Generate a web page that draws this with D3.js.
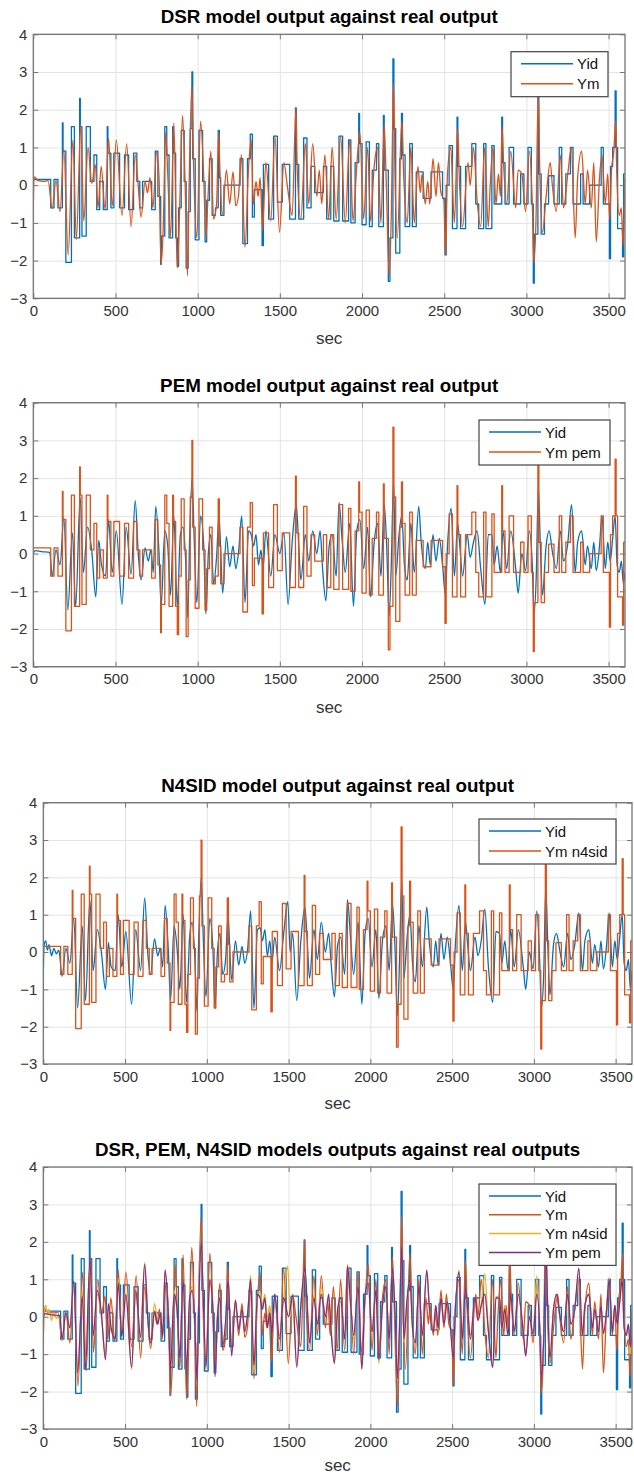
<!DOCTYPE html>
<html>
<head>
<meta charset="utf-8">
<script src="https://cdn.jsdelivr.net/npm/d3@7"></script>
<style>
  body { margin: 0; background: #fff; }
  svg text { font-family: "Liberation Sans", Arial, sans-serif; }
</style>
</head>
<body>
<div id="chart"></div>
<script>
// measured output (step-like) - [sec, value]
const yid = [[0,0.15],[106,-0.6],[126,0.15],[150,-0.6],[177,1.65],[181,0.9],[198,-2.05],[232,1.55],[250,-1.4],[282,2.3],[286,1.55],[296,-1.35],[322,1.55],[347,0.1],[369,0.8],[386,-0.65],[404,0.1],[426,-0.65],[450,1.55],[454,0.85],[472,-0.6],[490,0.85],[525,-0.6],[555,0.8],[580,-0.65],[610,0.85],[630,0.1],[648,-0.6],[665,0.1],[720,-0.65],[742,0.9],[758,-0.3],[775,-2.1],[779,-1.35],[800,1.55],[812,0.8],[826,-1.4],[848,1.55],[853,0.85],[866,-1.4],[876,-2.15],[884,-0.6],[900,1.45],[918,0.1],[930,-2.2],[942,-0.7],[955,1.5],[965,3.0],[970,0.7],[985,-1.45],[1008,1.45],[1030,0.1],[1045,-1.5],[1055,-0.4],[1072,0.7],[1088,-0.8],[1108,-0.6],[1125,1.45],[1132,0.2],[1140,-0.8],[1160,0.0],[1258,0.7],[1275,-1.55],[1303,0.7],[1320,1.35],[1333,-0.85],[1345,-0.12],[1392,-1.6],[1400,0.55],[1432,-0.9],[1462,1.3],[1485,-0.45],[1515,0.55],[1560,-0.9],[1595,2.05],[1600,0.55],[1615,-0.9],[1645,1.25],[1665,-0.6],[1690,0.5],[1712,-0.2],[1765,0.5],[1785,-0.9],[1810,0.5],[1828,-0.95],[1860,1.3],[1882,-0.95],[1918,1.2],[1932,-1.0],[1958,0.6],[1980,1.9],[1985,1.1],[2000,-1.05],[2025,1.15],[2045,-1.1],[2062,0.4],[2088,1.1],[2102,-1.1],[2130,1.85],[2135,0.4],[2160,-2.55],[2170,-1.4],[2188,3.35],[2194,1.5],[2205,-1.8],[2230,0.7],[2240,1.9],[2246,0.8],[2262,-1.1],[2290,1.1],[2306,-1.1],[2330,0.35],[2372,-0.35],[2420,0.35],[2490,-0.35],[2505,-1.85],[2512,0.0],[2530,1.05],[2550,-1.15],[2578,1.8],[2583,0.5],[2600,-1.15],[2630,0.5],[2668,1.1],[2692,-0.5],[2710,-1.15],[2740,1.1],[2754,-1.15],[2790,1.05],[2804,-0.5],[2850,1.8],[2855,0.6],[2870,-0.5],[2895,1.0],[2922,-0.5],[2965,0.3],[2985,-0.5],[3010,1.0],[3030,-0.5],[3042,-2.6],[3048,-1.3],[3070,2.4],[3076,0.3],[3090,-1.3],[3110,-0.5],[3135,0.25],[3168,-0.5],[3200,1.0],[3215,-0.5],[3240,0.3],[3268,1.0],[3284,-0.5],[3330,0.3],[3345,-0.5],[3385,0.0],[3455,1.0],[3468,-0.5],[3505,-1.95],[3512,0.5],[3525,1.0],[3540,2.5],[3546,1.0],[3555,-1.15],[3585,-1.9],[3592,0.3],[3600,0.3]];

// DSR model output
const dsr = [[0,-0.6],[5,0.22],[30,0.12],[60,0.1],[90,0.12],[115,-0.62],[138,0.12],[163,-0.7],[186,0.95],[212,-1.85],[241,1.2],[262,-1.45],[289,1.6],[307,-0.95],[333,1.0],[356,0.05],[377,0.55],[394,-0.6],[413,0.5],[437,-0.65],[458,1.25],[480,-0.55],[505,1.2],[540,-0.8],[568,1.1],[595,-1.1],[620,0.8],[638,0.0],[656,-0.85],[680,0.1],[695,-0.2],[710,0.2],[728,-0.6],[750,0.9],[765,0.2],[777,-2.1],[790,-1.2],[805,1.4],[818,0.3],[835,-1.4],[855,1.65],[876,-2.2],[890,-0.7],[908,1.85],[924,0.0],[938,-2.4],[948,0.0],[965,2.65],[976,0.4],[995,-1.4],[1018,1.7],[1037,0.2],[1050,-1.4],[1063,-0.3],[1080,0.9],[1097,-0.9],[1115,-0.5],[1128,1.4],[1136,0.3],[1150,-0.8],[1175,0.4],[1195,-0.5],[1215,0.35],[1232,-0.55],[1248,-0.3],[1266,0.8],[1288,-1.65],[1310,0.5],[1326,1.2],[1339,-0.5],[1355,0.1],[1368,-0.3],[1380,0.2],[1395,-1.2],[1415,0.6],[1445,-0.95],[1470,1.3],[1498,-1.25],[1525,0.6],[1545,0.0],[1575,-0.8],[1598,2.05],[1606,0.4],[1628,-0.9],[1655,1.1],[1676,-0.5],[1700,1.1],[1725,-0.3],[1740,0.4],[1755,-0.5],[1774,0.8],[1797,-0.9],[1818,1.0],[1843,-0.9],[1870,1.3],[1898,-1.0],[1925,1.2],[1945,-0.95],[1968,0.5],[1987,1.4],[2010,-0.9],[2034,1.0],[2052,-0.95],[2074,0.5],[2095,1.0],[2115,-1.0],[2135,1.6],[2148,0.0],[2165,-2.4],[2178,-0.8],[2192,2.7],[2200,0.4],[2215,-1.4],[2242,1.7],[2254,0.2],[2275,-1.0],[2297,1.0],[2318,-1.0],[2340,0.5],[2355,-0.2],[2365,0.3],[2385,-0.5],[2400,0.1],[2412,-0.5],[2432,0.7],[2450,-0.3],[2465,0.6],[2480,-0.2],[2498,-0.4],[2507,-1.85],[2520,0.3],[2540,1.0],[2562,-1.0],[2582,1.5],[2592,0.2],[2612,-1.1],[2645,0.6],[2658,0.0],[2678,1.0],[2700,-0.4],[2722,-1.1],[2746,1.0],[2768,-1.1],[2780,0.0],[2797,1.0],[2815,-0.5],[2830,0.3],[2842,-0.3],[2852,1.55],[2862,0.5],[2880,-0.5],[2905,0.9],[2935,-0.6],[2950,0.4],[2972,0.3],[2995,-0.7],[3018,0.9],[3036,-0.5],[3045,-2.05],[3058,-1.0],[3072,2.4],[3082,0.3],[3098,-1.25],[3120,-0.3],[3145,0.6],[3158,0.0],[3182,-0.7],[3206,0.8],[3226,-0.6],[3252,0.3],[3274,1.0],[3297,-1.4],[3312,0.2],[3336,0.9],[3358,-0.5],[3372,0.4],[3395,-0.6],[3410,0.6],[3425,-1.5],[3445,0.2],[3460,0.8],[3480,-0.5],[3495,0.3],[3507,-0.9],[3518,0.4],[3532,0.9],[3543,1.7],[3550,0.3],[3565,-0.8],[3578,-0.6],[3588,-1.6],[3600,0.2]];

// PEM model output
const pem = [[0,0.0],[10,0.08],[50,0.05],[100,0.03],[115,-0.6],[138,0.1],[163,-0.3],[186,0.95],[210,-1.5],[238,0.55],[258,-1.4],[285,1.5],[305,-0.5],[330,0.7],[355,0.1],[380,-1.15],[398,0.35],[415,-0.3],[440,-0.6],[458,0.9],[480,-0.5],[505,0.6],[540,-1.35],[565,0.7],[595,-0.55],[620,1.4],[640,-0.1],[656,-0.7],[680,0.15],[700,-0.2],[715,0.1],[730,-0.5],[745,1.25],[765,0.0],[778,-1.4],[800,0.6],[818,0.2],[835,-1.1],[855,1.0],[876,-1.4],[895,0.5],[910,0.7],[925,0.0],[940,-1.7],[950,0.2],[966,2.0],[978,0.5],[995,-1.3],[1018,1.0],[1037,0.2],[1050,-1.6],[1065,0.0],[1080,0.5],[1097,-0.8],[1115,-0.1],[1130,1.0],[1140,0.1],[1152,-1.05],[1175,0.45],[1195,-0.35],[1215,0.2],[1232,-0.4],[1250,0.1],[1268,1.0],[1288,-1.3],[1310,0.6],[1326,0.5],[1340,0.2],[1355,0.5],[1370,-0.3],[1385,0.1],[1398,-0.4],[1415,0.6],[1445,-0.6],[1470,0.5],[1500,0.0],[1525,0.55],[1550,-1.35],[1575,0.3],[1600,1.3],[1615,0.2],[1628,-0.7],[1655,0.5],[1676,-0.2],[1700,0.6],[1725,0.0],[1745,0.6],[1760,-0.4],[1780,-1.25],[1800,0.2],[1818,0.5],[1843,-0.6],[1860,1.35],[1880,0.3],[1898,-0.5],[1925,0.8],[1948,-1.4],[1968,0.6],[1987,0.9],[2010,-0.4],[2034,0.7],[2052,-1.15],[2074,0.3],[2095,0.8],[2115,-0.6],[2135,1.3],[2150,0.2],[2165,-1.65],[2178,-0.3],[2192,1.9],[2205,-0.6],[2225,0.5],[2242,1.0],[2258,-0.3],[2275,-0.7],[2297,0.8],[2318,-0.5],[2345,1.25],[2360,0.3],[2385,-0.4],[2400,0.3],[2415,-0.3],[2432,0.5],[2450,-0.2],[2470,0.4],[2490,-0.3],[2507,-1.1],[2520,0.2],[2542,1.2],[2562,-0.6],[2582,0.8],[2595,0.2],[2612,-0.6],[2640,0.5],[2658,-0.1],[2678,0.3],[2700,0.6],[2722,-0.4],[2748,-1.35],[2768,0.5],[2790,0.5],[2804,-0.3],[2822,0.2],[2842,-0.5],[2858,0.6],[2880,-0.4],[2905,0.6],[2935,-0.4],[2950,-1.05],[2972,0.0],[2995,-0.45],[3018,0.6],[3036,-0.3],[3046,-1.6],[3060,-0.6],[3073,1.75],[3085,0.2],[3098,-1.1],[3120,0.2],[3138,0.6],[3160,0.0],[3182,-0.4],[3206,0.6],[3226,-0.2],[3250,0.2],[3275,1.3],[3297,-0.5],[3312,0.3],[3336,0.6],[3358,-0.3],[3372,0.2],[3395,-0.4],[3410,0.3],[3425,-0.45],[3445,0.2],[3460,1.0],[3480,-0.4],[3495,0.3],[3510,-0.2],[3525,0.4],[3540,1.0],[3552,-0.3],[3565,-0.5],[3578,-0.2],[3590,-0.8],[3600,-0.5]];

// N4SID model output
const n4sid = [[0,-0.6],[5,0.2],[15,0.3],[25,0.05],[35,0.2],[50,-0.1],[65,0.1],[80,-0.05],[95,0.05],[115,-0.65],[138,0.1],[163,-0.3],[186,0.9],[210,-1.5],[238,0.7],[258,-1.3],[285,1.4],[305,-0.5],[330,0.6],[355,0.0],[380,-1.0],[398,0.25],[415,-0.4],[440,-0.5],[458,1.0],[480,-0.4],[505,0.55],[540,-1.4],[565,0.6],[595,-0.5],[620,1.45],[640,-0.1],[656,-0.6],[680,0.35],[700,-0.1],[715,0.1],[730,-0.4],[745,1.25],[765,0.0],[778,-1.3],[800,0.7],[818,0.1],[835,-1.0],[855,1.0],[876,-1.35],[895,0.4],[910,0.8],[925,0.0],[940,-1.6],[950,0.3],[966,2.0],[978,0.4],[995,-1.2],[1018,0.9],[1037,0.1],[1050,-1.5],[1065,0.0],[1080,0.5],[1097,-0.6],[1115,-0.2],[1130,1.0],[1140,0.1],[1152,-0.75],[1175,0.3],[1195,-0.35],[1215,0.15],[1232,-0.3],[1250,0.1],[1268,1.1],[1288,-1.5],[1310,0.6],[1326,0.65],[1340,0.3],[1355,0.6],[1370,-0.1],[1385,0.3],[1398,-0.3],[1415,0.4],[1445,-0.5],[1470,0.5],[1495,1.35],[1510,0.0],[1525,0.5],[1550,-1.3],[1575,0.3],[1600,1.2],[1615,0.2],[1628,-0.7],[1655,0.6],[1676,-0.2],[1700,0.8],[1725,0.0],[1745,0.5],[1760,-0.3],[1780,-1.2],[1800,0.2],[1818,0.4],[1843,-0.6],[1860,1.4],[1880,0.3],[1898,-0.6],[1925,0.8],[1948,-1.4],[1968,0.5],[1987,0.9],[2010,-0.4],[2034,0.6],[2052,-1.25],[2074,0.3],[2095,0.7],[2115,-0.5],[2135,1.3],[2150,0.2],[2165,-1.7],[2178,-0.3],[2192,1.9],[2205,-0.7],[2225,0.4],[2242,1.0],[2258,-0.3],[2275,-0.8],[2297,0.7],[2318,-0.4],[2345,1.2],[2360,0.3],[2385,-0.4],[2400,0.3],[2415,-0.35],[2432,0.5],[2450,-0.2],[2470,0.4],[2490,-0.3],[2507,-1.0],[2520,0.2],[2542,1.25],[2562,-0.5],[2582,0.8],[2595,0.2],[2612,-0.5],[2640,0.4],[2658,-0.1],[2678,0.3],[2700,1.15],[2722,-0.4],[2748,-1.35],[2768,0.55],[2790,0.5],[2804,-0.3],[2822,0.3],[2842,-0.5],[2858,0.6],[2880,-0.4],[2905,0.6],[2935,-0.4],[2950,-1.0],[2972,0.0],[2995,-0.45],[3018,1.1],[3036,-0.3],[3046,-1.5],[3060,-0.6],[3073,1.75],[3085,0.2],[3098,-1.15],[3120,0.2],[3138,0.5],[3160,0.0],[3182,-0.4],[3206,0.5],[3226,-0.2],[3250,0.2],[3275,1.05],[3297,-0.5],[3312,0.3],[3336,0.6],[3358,-0.3],[3372,0.2],[3395,-0.4],[3410,0.3],[3425,-0.45],[3445,0.2],[3460,1.05],[3480,-0.4],[3495,0.3],[3510,-0.2],[3525,0.4],[3540,1.0],[3552,-0.3],[3565,-0.5],[3578,-0.2],[3590,-1.0],[3600,-0.5]];

const xTicks = [0, 500, 1000, 1500, 2000, 2500, 3000, 3500];
const yTicks = [-3, -2, -1, 0, 1, 2, 3, 4];

const blue = '#0072BD', orange = '#D95319', yellow = '#EDB120', purple = '#7E2F8E';

// ploting in matlab stijl, 4 panels onder elkaar
const panels = [
  { title: 'DSR model output against real output', left: 33.3, right: 625, top: 34.3, bottom: 298.3, secDy: 46,
    legend: { x: 511, y: 51.7, w: 97, gap: 20 },
    series: [
      { name: 'Yid', data: yid, color: blue, step: true },
      { name: 'Ym', data: dsr, color: orange }
    ] },
  { title: 'PEM model output against real output', left: 33.3, right: 625, top: 402.7, bottom: 666.7, secDy: 46,
    legend: { x: 479, y: 420, w: 131, gap: 20 },
    series: [
      { name: 'Yid', data: pem, color: blue },
      { name: 'Ym pem', data: yid, color: orange, step: true }
    ] },
  { title: 'N4SID model output against real output', left: 43.3, right: 632, top: 802.7, bottom: 1064, secDy: 45,
    legend: { x: 479, y: 819, w: 137, gap: 20 },
    series: [
      { name: 'Yid', data: n4sid, color: blue },
      { name: 'Ym n4sid', data: yid, color: orange, step: true }
    ] },
  { title: 'DSR, PEM, N4SID models outputs against real outputs', left: 43.3, right: 632, top: 1167, bottom: 1429, secDy: 42,
    legend: { x: 479, y: 1184, w: 137, gap: 18.8 },
    series: [
      { name: 'Yid', data: yid, color: blue, step: true },
      { name: 'Ym', data: dsr, color: orange },
      { name: 'Ym n4sid', data: n4sid, color: yellow },
      { name: 'Ym pem', data: pem, color: purple }
    ] }
];

const svg = d3.select('#chart').append('svg')
  .attr('width', 634)
  .attr('height', 1479);

panels.forEach((p, k) => {
  const x = d3.scaleLinear().domain([0, 3600]).range([p.left, p.right]);
  const y = d3.scaleLinear().domain([-3, 4]).range([p.bottom, p.top]);
  const g = svg.append('g');

  const clipId = 'clip' + k;
  g.append('clipPath').attr('id', clipId)
    .append('rect')
    .attr('x', p.left).attr('y', p.top)
    .attr('width', p.right - p.left).attr('height', p.bottom - p.top);

  // grid
  g.append('g')
    .attr('transform', `translate(0,${p.bottom})`)
    .call(d3.axisBottom(x).tickValues(xTicks).tickSize(-(p.bottom - p.top)).tickFormat(''))
    .call(a => a.select('.domain').remove())
    .selectAll('line').attr('stroke', '#e3e3e3');
  g.append('g')
    .attr('transform', `translate(${p.left},0)`)
    .call(d3.axisLeft(y).tickValues(yTicks).tickSize(-(p.right - p.left)).tickFormat(''))
    .call(a => a.select('.domain').remove())
    .selectAll('line').attr('stroke', '#e3e3e3');

  // lijnen
  const lines = g.append('g').attr('clip-path', `url(#${clipId})`);
  p.series.forEach(s => {
    const line = d3.line()
      .x(d => x(d[0]))
      .y(d => y(d[1]))
      .curve(s.step ? d3.curveStepAfter : d3.curveMonotoneX);
    lines.append('path')
      .datum(s.data)
      .attr('fill', 'none')
      .attr('stroke', s.color)
      .attr('stroke-width', 1.3)
      .attr('stroke-linejoin', 'round')
      .attr('d', line);
  });

  // assen met ticks naar binnen
  const axisColor = '#767676';
  const fmt = d3.format('d');
  const styleAxis = a => {
    a.select('.domain').remove();
    a.selectAll('line').attr('stroke', axisColor);
    a.selectAll('text').attr('fill', '#333').style('font-size', '15px');
  };
  g.append('g').attr('transform', `translate(0,${p.bottom})`)
    .call(d3.axisBottom(x).tickValues(xTicks).tickFormat(fmt).tickSizeInner(-5).tickSizeOuter(0).tickPadding(7))
    .call(styleAxis);
  g.append('g').attr('transform', `translate(0,${p.top})`)
    .call(d3.axisTop(x).tickValues(xTicks).tickSizeInner(-5).tickSizeOuter(0).tickFormat(''))
    .call(styleAxis);
  g.append('g').attr('transform', `translate(${p.left},0)`)
    .call(d3.axisLeft(y).tickValues(yTicks).tickFormat(fmt).tickSizeInner(-5).tickSizeOuter(0).tickPadding(6))
    .call(styleAxis);
  g.append('g').attr('transform', `translate(${p.right},0)`)
    .call(d3.axisRight(y).tickValues(yTicks).tickSizeInner(-5).tickSizeOuter(0).tickFormat(''))
    .call(styleAxis);

  g.append('rect')
    .attr('x', p.left).attr('y', p.top)
    .attr('width', p.right - p.left).attr('height', p.bottom - p.top)
    .attr('fill', 'none').attr('stroke', axisColor).attr('stroke-width', 1.3);

  // titel en x-label
  g.append('text')
    .attr('x', (p.left + p.right) / 2).attr('y', p.top - 11)
    .attr('text-anchor', 'middle')
    .style('font-size', '18.8px').style('font-weight', 'bold')
    .attr('fill', '#000')
    .text(p.title);
  g.append('text')
    .attr('x', (p.left + p.right) / 2).attr('y', p.bottom + p.secDy)
    .attr('text-anchor', 'middle')
    .style('font-size', '17px')
    .attr('fill', '#333')
    .text('sec');

  // legenda
  const L = p.legend;
  const n = p.series.length;
  const lg = g.append('g');
  lg.append('rect')
    .attr('x', L.x).attr('y', L.y)
    .attr('width', L.w).attr('height', 22 + (n - 1) * L.gap + 3)
    .attr('fill', '#fff').attr('stroke', '#444').attr('stroke-width', 1.2);
  p.series.forEach((s, i) => {
    const yy = L.y + 12 + i * L.gap;
    lg.append('line')
      .attr('x1', L.x + 10).attr('x2', L.x + 62)
      .attr('y1', yy).attr('y2', yy)
      .attr('stroke', s.color).attr('stroke-width', 1.5);
    lg.append('text')
      .attr('x', L.x + 66).attr('y', yy + 5.5)
      .style('font-size', '15px')
      .attr('fill', '#111')
      .text(s.name);
  });
});
</script>
</body>
</html>
